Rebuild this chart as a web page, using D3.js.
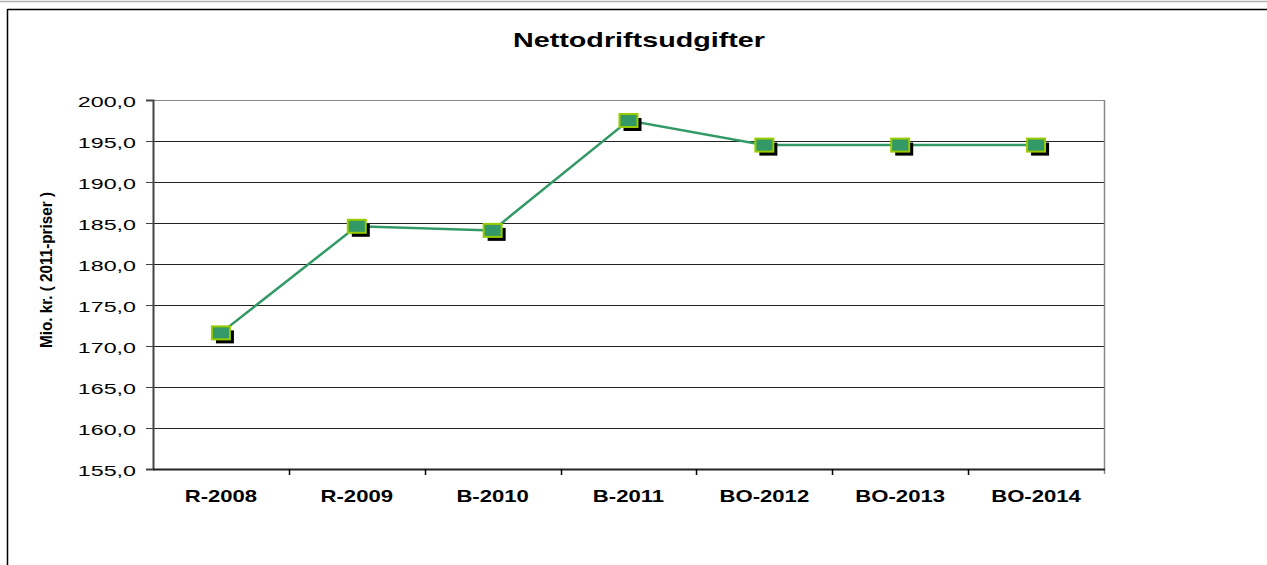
<!DOCTYPE html>
<html>
<head>
<meta charset="utf-8">
<script src="https://cdn.jsdelivr.net/npm/d3@7"></script>
<style>
  body { margin: 0; background: #fff; overflow: hidden; }
  svg { display: block; }
  text { font-family: "Liberation Sans", Arial, sans-serif; }
</style>
</head>
<body>
<div class="chart"></div>
<script>
// data
var categories = ['R-2008', 'R-2009', 'B-2010', 'B-2011', 'BO-2012', 'BO-2013', 'BO-2014'];
var values = [171.6, 184.6, 184.1, 197.5, 194.5, 194.5, 194.5];
var yTicks = [155, 160, 165, 170, 175, 180, 185, 190, 195, 200];

var W = 1267, H = 565;
var plot = { left: 153, top: 100, right: 1104, bottom: 469 };

var svg = d3.select('.chart')
   .append('svg')
   .attr('width', W)
   .attr('height', H);

// the source picture is stretched sideways, so widen text to match
function stretch(sel, factor){
   sel.each(function(){
      var w = this.getComputedTextLength();
      d3.select(this)
         .attr('textLength', w * factor)
         .attr('lengthAdjust', 'spacingAndGlyphs');
   });
}

// outer frame (only left + top show in view)
svg.append('line').attr('x1', 0).attr('x2', W).attr('y1', 1.5).attr('y2', 1.5)
   .attr('stroke', '#b0b0b0').attr('stroke-width', 1.5);
svg.append('line').attr('x1', 7.5).attr('x2', W).attr('y1', 9.5).attr('y2', 9.5)
   .attr('stroke', '#000').attr('stroke-width', 1.5);
svg.append('line').attr('x1', 7.5).attr('x2', 7.5).attr('y1', 9).attr('y2', H)
   .attr('stroke', '#000').attr('stroke-width', 1.5);

var x = d3.scaleBand().domain(categories).range([plot.left, plot.right]);
var y = d3.scaleLinear().domain([155, 200]).range([plot.bottom, plot.top]);

// title
svg.append('text')
   .attr('x', 639).attr('y', 47)
   .attr('text-anchor', 'middle')
   .attr('font-size', '21px').attr('font-weight', 'bold')
   .attr('textLength', 252).attr('lengthAdjust', 'spacingAndGlyphs')
   .text('Nettodriftsudgifter');

// gridlines
svg.selectAll('.grid')
   .data(yTicks.slice(1))
   .enter()
   .append('line')
   .attr('x1', plot.left).attr('x2', plot.right)
   .attr('y1', function(d){ return Math.round(y(d)) + 0.5; })
   .attr('y2', function(d){ return Math.round(y(d)) + 0.5; })
   .attr('stroke', function(d){ return d === 200 ? '#888' : '#222'; })
   .attr('stroke-width', 1);

// right border of plot area
svg.append('line')
   .attr('x1', plot.right + 0.5).attr('x2', plot.right + 0.5)
   .attr('y1', plot.top).attr('y2', plot.bottom + 5)
   .attr('stroke', '#888').attr('stroke-width', 1.5);

// y axis
var yAxis = d3.axisLeft(y)
   .tickValues(yTicks)
   .tickSize(7)
   .tickFormat(function(d){ return d3.format('.1f')(d).replace('.', ','); });
var gy = svg.append('g')
   .attr('transform', 'translate(' + plot.left + ',0)')
   .call(yAxis);
gy.select('.domain').attr('stroke', '#444').attr('stroke-width', 2);
gy.selectAll('.tick line').attr('stroke', '#444');
gy.selectAll('.tick text')
   .attr('x', -17)
   .attr('dy', '0.4em')
   .attr('font-size', '15px').attr('fill', '#000')
   .attr('font-family', '"Liberation Sans", Arial, sans-serif')
   .call(stretch, 1.55);

// x axis
var gx = svg.append('g')
   .attr('transform', 'translate(0,' + plot.bottom + ')');
gx.append('line')
   .attr('x1', plot.left).attr('x2', plot.right + 1)
   .attr('y1', 0.5).attr('y2', 0.5)
   .attr('stroke', '#222').attr('stroke-width', 2);
gx.selectAll('.xtick')
   .data(categories.slice(1))
   .enter()
   .append('line')
   .attr('x1', function(d){ return Math.round(x(d)) + 0.5; })
   .attr('x2', function(d){ return Math.round(x(d)) + 0.5; })
   .attr('y1', 0).attr('y2', 6)
   .attr('stroke', '#000').attr('stroke-width', 1.5);
gx.selectAll('.xlab')
   .data(categories)
   .enter()
   .append('text')
   .attr('x', function(d){ return x(d) + x.bandwidth() / 2; })
   .attr('y', 33)
   .attr('text-anchor', 'middle')
   .attr('font-size', '17px').attr('font-weight', 'bold')
   .text(function(d){ return d; })
   .call(stretch, 1.3);

// y axis title
svg.append('text')
   .attr('transform', 'translate(52,270) rotate(-90)')
   .attr('text-anchor', 'middle')
   .attr('font-size', '17px').attr('font-weight', 'bold')
   .attr('textLength', 156).attr('lengthAdjust', 'spacingAndGlyphs')
   .text('Mio. kr. ( 2011-priser )');

// line
var line = d3.line()
   .x(function(d, i){ return x(categories[i]) + x.bandwidth() / 2; })
   .y(function(d){ return y(d); });
svg.append('path')
   .datum(values)
   .attr('d', line)
   .attr('fill', 'none')
   .attr('stroke', '#339966')
   .attr('stroke-width', 2.5);

// markers: shadow then square
var mw = 18, mh = 13;
svg.selectAll('.shadow')
   .data(values)
   .enter()
   .append('rect')
   .attr('x', function(d, i){ return x(categories[i]) + x.bandwidth() / 2 - mw / 2 + 4; })
   .attr('y', function(d){ return y(d) - mh / 2 + 4; })
   .attr('width', mw).attr('height', mh)
   .attr('fill', '#000');
svg.selectAll('.marker')
   .data(values)
   .enter()
   .append('rect')
   .attr('x', function(d, i){ return x(categories[i]) + x.bandwidth() / 2 - mw / 2; })
   .attr('y', function(d){ return y(d) - mh / 2; })
   .attr('width', mw).attr('height', mh)
   .attr('fill', '#339966')
   .attr('stroke', '#99cc00')
   .attr('stroke-width', 2);
</script>
</body>
</html>
